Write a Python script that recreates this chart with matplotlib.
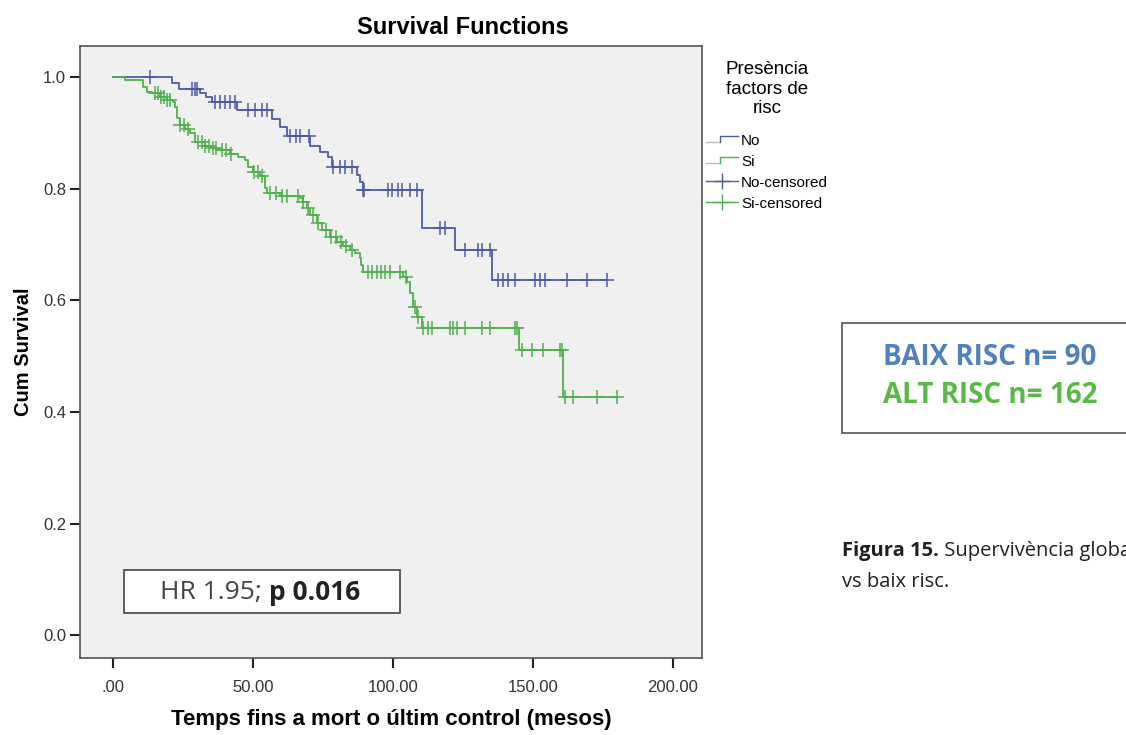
import numpy as np
import matplotlib
matplotlib.use("Agg")
import matplotlib.pyplot as plt
from matplotlib.lines import Line2D
from matplotlib.patches import Rectangle
from matplotlib.legend_handler import HandlerBase

# ---------------- data ----------------
# "No" group (baix risc): step times / survival after the step
no_times = [0, 21.1, 23.6, 31.1, 33.2, 35.4, 44.3, 56.8, 59.6, 62.1, 70.4, 73.9,
            76.8, 78.2, 87.1, 88.2, 89.3, 110.4, 122.0, 135.4]
no_surv = [1.0, 0.989, 0.978, 0.971, 0.964, 0.955, 0.941, 0.925, 0.910, 0.894, 0.876, 0.866,
           0.857, 0.839, 0.824, 0.812, 0.797, 0.730, 0.690, 0.636]
no_cens = [13.2, 28.2, 29.3, 30.0, 36.4, 38.2, 40.0, 41.8, 43.6, 48.2, 50.7, 53.2, 55.0,
           63.2, 65.4, 66.8, 70.0, 78.6, 81.0, 82.9, 85.4, 89.4, 89.7, 98.2, 99.6, 101.8,
           103.2, 106.1, 108.6, 116.8, 118.6, 125.7, 130.4, 131.8, 134.6, 137.5, 139.3,
           141.1, 143.6, 150.7, 152.5, 154.3, 162.1, 169.3, 176.4]
no_end = 176.4

# "Si" group (alt risc)
si_times = [0, 4.3, 10.7, 12.1, 13.9, 16.8, 19.3, 21.4, 22.1, 22.9, 23.9, 25.7, 27.5, 29.3,
            32.9, 35.4, 37.5, 41.8, 44.6, 47.1, 48.2, 50.0, 52.5, 54.3, 55.0, 59.6, 66.8,
            67.9, 69.3, 70.4, 72.9, 74.6, 77.5, 80.0, 82.1, 84.6, 86.4, 88.2, 88.6, 89.3,
            103.6, 105.0, 106.1, 107.1, 108.6, 110.4, 145.0, 160.7]
si_surv = [1.0, 0.995, 0.982, 0.973, 0.971, 0.964, 0.959, 0.955, 0.946, 0.927, 0.914, 0.907,
           0.900, 0.884, 0.876, 0.873, 0.869, 0.862, 0.857, 0.851, 0.839, 0.830, 0.823, 0.801,
           0.792, 0.787, 0.783, 0.776, 0.765, 0.753, 0.738, 0.726, 0.713, 0.704, 0.697, 0.690,
           0.685, 0.676, 0.663, 0.651, 0.642, 0.633, 0.613, 0.588, 0.570, 0.550, 0.511, 0.427]
si_cens = [15.0, 16.1, 17.1, 18.2, 19.3, 20.4, 23.9, 25.4, 26.8, 30.4, 31.8, 32.9, 34.3,
           35.7, 36.8, 38.9, 40.4, 42.1, 50.4, 51.8, 53.2, 56.1, 58.2, 60.4, 62.1, 66.1,
           67.9, 69.6, 71.4, 73.2, 76.1, 77.9, 79.6, 81.4, 83.2, 85.4, 91.1, 92.5, 94.3,
           95.7, 97.1, 98.9, 102.5, 104.6, 107.9, 108.9, 110.7, 112.5, 113.9, 120.4, 121.4,
           122.9, 125.7, 131.8, 134.6, 143.6, 144.3, 146.1, 149.6, 153.6, 159.6, 160.4,
           161.4, 164.3, 172.9, 180.0]
si_end = 180.0

x_ticks = [0, 50, 100, 150, 200]
x_ticklabels = [".00", "50.00", "100.00", "150.00", "200.00"]
y_ticks = [0.0, 0.2, 0.4, 0.6, 0.8, 1.0]

blue = "#4d5aaa"
green = "#4fb04c"


def surv_at(times, surv, t):
    # value of the step function at time t
    idx = np.searchsorted(times, t, side="right") - 1
    return np.asarray(surv)[idx]


class StepHandler(HandlerBase):
    # little "_|‾" step like the SPSS legend
    def create_artists(self, legend, orig_handle, xdescent, ydescent, width, height, fontsize, trans):
        x0 = -xdescent
        xs = np.array([0, 0.45, 0.45, 1.0]) * width + x0
        ys = np.array([0.25, 0.25, 0.85, 0.85]) * height - ydescent
        light = Line2D(xs[:2], ys[:2], color="#b8bcc8", lw=1)
        line = Line2D(xs[1:], ys[1:], color=orig_handle.get_color(), lw=1)
        light.set_transform(trans)
        line.set_transform(trans)
        return [light, line]


# ---------------- figure ----------------
fig = plt.figure(figsize=(11.26, 7.35), dpi=100)
fig.patch.set_facecolor("white")
plt.rcParams["font.family"] = ["Liberation Sans", "DejaVu Sans"]

ax = fig.add_axes([80 / 1126, 1 - 658 / 735, 622 / 1126, 612 / 735])
ax.set_facecolor("#f0f0f0")

# survival curves
for times, surv, end, col in [(no_times, no_surv, no_end, blue), (si_times, si_surv, si_end, green)]:
    tt = list(times) + [end]
    ss = list(surv) + [surv[-1]]
    ax.step(tt, ss, where="post", color=col, lw=1.3)

# censored marks
ax.plot(no_cens, surv_at(no_times, no_surv, no_cens), ls="none", marker="+", ms=10, mew=1.1, color=blue)
ax.plot(si_cens, surv_at(si_times, si_surv, si_cens), ls="none", marker="+", ms=10, mew=1.1, color=green)

ax.set_xlim(-11.8, 210.4)
ax.set_ylim(-0.041, 1.0556)
ax.set_xticks(x_ticks)
ax.set_xticklabels(x_ticklabels)
ax.set_yticks(y_ticks)
ax.set_yticklabels(["%.1f" % v for v in y_ticks])
ax.tick_params(axis="both", direction="out", length=7, width=1.5, colors="#222222",
               labelsize=12, labelcolor="#333333")
ax.tick_params(axis="x", pad=9)
ax.tick_params(axis="y", pad=3)
for s in ax.spines.values():
    s.set_color("#555555")
    s.set_linewidth(1.2)

ax.set_xlabel("Temps fins a mort o últim control (mesos)", fontsize=16, fontweight="bold", labelpad=10)
ax.set_ylabel("Cum Survival", fontsize=14.5, fontweight="bold", labelpad=7)
fig.text(463 / 1126, 1 - 27 / 735, "Survival Functions", fontsize=17, fontweight="bold",
         ha="center", va="center")

# legend outside on the right
handles = [Line2D([], [], color=blue), Line2D([], [], color=green),
           Line2D([], [], color=blue, marker="+", ms=11, lw=1),
           Line2D([], [], color=green, marker="+", ms=11, lw=1)]
leg = fig.legend(handles, ["No", "Si", "No-censored", "Si-censored"],
                 title="Presència\nfactors de\nrisc", loc="upper left",
                 bbox_to_anchor=(703 / 1126, 1 - 58 / 735), frameon=False,
                 fontsize=11, title_fontsize=13.5, handlelength=2.1, handletextpad=0.2,
                 labelspacing=0.45, borderaxespad=0, borderpad=0.2,
                 handler_map={handles[0]: StepHandler(), handles[1]: StepHandler()})
leg.get_title().set_multialignment("center")
leg._legend_box.sep = 12

# HR box inside the plot
ax.add_patch(Rectangle((124 / 1126, 1 - 613 / 735), 276 / 1126, 43 / 735,
                       transform=fig.transFigure, facecolor="white",
                       edgecolor="#444444", lw=1.2, zorder=5, clip_on=False))
t1 = ax.text(160 / 1126, 1 - 592 / 735, "HR 1.95; ", fontsize=19, color="#444444",
             family="Open Sans", va="center", ha="left", zorder=6, transform=fig.transFigure)
ax.annotate("p 0.016", xy=(1, 0.5), xycoords=t1, va="center", ha="left",
            fontsize=19, fontweight="bold", color="#222222", family="Open Sans",
            annotation_clip=False, zorder=6)

# right side: counts box and caption
fig.patches.append(Rectangle((842 / 1126, 1 - 433 / 735), 300 / 1126, 110 / 735,
                             transform=fig.transFigure, facecolor="white",
                             edgecolor="#555555", lw=1.2, clip_on=False))
fig.text(990 / 1126, 1 - 357 / 735, "BAIX RISC n= 90", fontsize=20, fontweight="bold",
         color="#4f81bd", family="Open Sans", ha="center", va="center")
fig.text(990 / 1126, 1 - 395 / 735, "ALT RISC n= 162", fontsize=20, fontweight="bold",
         color="#5ab946", family="Open Sans", ha="center", va="center")

# caption runs off the right edge, as in the source page
c1 = fig.text(842 / 1126, 1 - 551 / 735, "Figura 15.", fontsize=14.5, fontweight="bold",
              color="#231f20", family="Open Sans", va="center", ha="left")
ax.annotate(" Supervivència global", xy=(1, 0.5), xycoords=c1, va="center", ha="left",
            fontsize=14.5, color="#231f20", family="Open Sans", annotation_clip=False)
fig.text(842 / 1126, 1 - 582 / 735, "vs baix risc.", fontsize=14.5, color="#231f20",
         family="Open Sans", va="center", ha="left")

fig.savefig("out.png", dpi=100, facecolor="white")
